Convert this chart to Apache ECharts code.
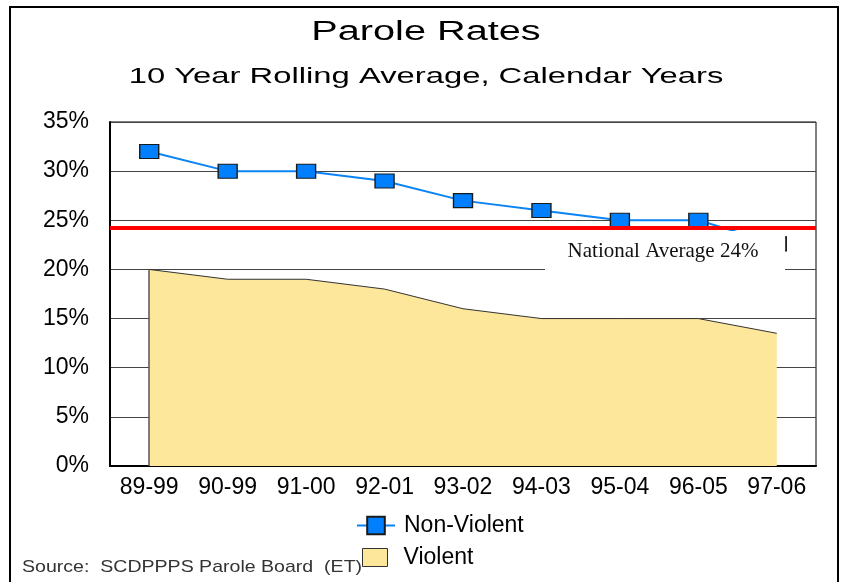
<!DOCTYPE html>
<html>
<head>
<meta charset="utf-8">
<script src="https://cdn.jsdelivr.net/npm/echarts@6/dist/echarts.min.js"></script>
<style>
  html, body { margin: 0; padding: 0; background: #fff; }
  #chart { width: 841px; height: 582px; }
</style>
</head>
<body>
<div id="chart"></div>
<script>
// 10 year rolling windows
const categories = ['89-99', '90-99', '91-00', '92-01', '93-02', '94-03', '95-04', '96-05', '97-06']
// percentages
const nonViolent = [32, 30, 30, 29, 27, 26, 25, 25, 22.6]
const violent = [20, 19, 19, 18, 16, 15, 15, 15, 13.5]
const nationalAverage = 24.2
const yTicks = [0, 5, 10, 15, 20, 25, 30, 35]

const axisFont = '"Liberation Sans", Arial, sans-serif'

const chart = echarts.init(document.getElementById('chart'))

const options = {
  animation: false,
  backgroundColor: '#fff',
  grid: {
    left: 110,
    right: 25,
    top: 122,
    bottom: 116,
    show: true,
    borderColor: '#000',
    borderWidth: 1
  },
  xAxis: {
    type: 'category',
    data: categories,
    boundaryGap: true,
    axisLine: { lineStyle: { color: '#000', width: 2 } },
    axisTick: { show: false },
    axisLabel: {
      interval: 0,
      color: '#000',
      fontSize: 23,
      fontFamily: axisFont,
      margin: 10
    },
    splitLine: { show: false }
  },
  yAxis: {
    type: 'value',
    min: yTicks[0],
    max: yTicks[yTicks.length - 1],
    interval: 5,
    axisLine: { show: true, lineStyle: { color: '#000', width: 2 } },
    axisTick: { show: false },
    axisLabel: {
      color: '#000',
      fontSize: 23,
      fontFamily: axisFont,
      margin: 21,
      formatter: '{value}%'
    },
    splitLine: { lineStyle: { color: '#444', width: 1 } }
  },
  legend: [
    {
      // 非暴力
      data: ['Non-Violent'],
      left: 351,
      top: 509,
      itemWidth: 38,
      itemHeight: 22,
      selectedMode: false,
      textStyle: { color: '#000', fontSize: 23, fontFamily: axisFont, padding: [0, 0, 0, 4] }
    },
    {
      data: [
        {
          name: 'Violent',
          icon: 'rect',
          itemStyle: { color: '#FDE79B', borderColor: '#333', borderWidth: 1 }
        }
      ],
      left: 357,
      top: 541,
      itemWidth: 25,
      itemHeight: 18,
      selectedMode: false,
      textStyle: { color: '#000', fontSize: 23, fontFamily: axisFont, padding: [0, 0, 0, 11] }
    }
  ],
  series: [
    {
      name: 'Violent',
      type: 'line',
      data: violent,
      symbol: 'none',
      z: 1,
      itemStyle: { color: '#FDE79B', borderColor: '#333', borderWidth: 1 },
      lineStyle: { color: '#333', width: 1 },
      areaStyle: { color: '#FDE79B', opacity: 1 },
      // left edge of the area
      markLine: {
        silent: true,
        symbol: 'none',
        label: { show: false },
        lineStyle: { color: '#555', width: 1.5, type: 'solid' },
        data: [[{ coord: [categories[0], 0] }, { coord: [categories[0], violent[0]] }]]
      }
    },
    {
      name: 'Non-Violent',
      type: 'line',
      data: nonViolent,
      symbol: 'rect',
      symbolSize: [19, 14],
      z: 3,
      itemStyle: { color: '#0080FF', borderColor: '#1a1a1a', borderWidth: 1.2 },
      lineStyle: { color: '#0A84F5', width: 2 },
      // 全国平均线
      markLine: {
        silent: true,
        symbol: 'none',
        label: { show: false },
        lineStyle: { color: '#FF0000', width: 4, type: 'solid' },
        data: [{ yAxis: nationalAverage }]
      }
    }
  ],
  graphic: [
    {
      type: 'rect',
      z: 100,
      shape: { x: 10, y: 7, width: 828, height: 600 },
      style: { fill: 'none', stroke: '#000', lineWidth: 2 }
    },
    {
      type: 'text',
      z: 100,
      x: 426,
      y: 33,
      scaleX: 1.47,
      style: {
        text: 'Parole Rates',
        fill: '#000',
        font: '27px "Liberation Sans", Arial, sans-serif',
        textAlign: 'center',
        textVerticalAlign: 'middle'
      }
    },
    {
      type: 'text',
      z: 100,
      x: 426,
      y: 77,
      scaleX: 1.49,
      style: {
        text: '10 Year Rolling Average, Calendar Years',
        fill: '#000',
        font: '22px "Liberation Sans", Arial, sans-serif',
        textAlign: 'center',
        textVerticalAlign: 'middle'
      }
    },
    {
      // label box for the national average
      type: 'rect',
      z: 100,
      shape: { x: 545, y: 231, width: 240, height: 41 },
      style: { fill: '#fff' }
    },
    {
      type: 'text',
      z: 101,
      x: 663,
      y: 251,
      style: {
        text: 'National Average 24%',
        fill: '#111',
        font: '21px "Liberation Serif", "Times New Roman", serif',
        textAlign: 'center',
        textVerticalAlign: 'middle'
      }
    },
    {
      type: 'text',
      z: 100,
      x: 22,
      y: 567,
      scaleX: 1.15,
      style: {
        text: 'Source:  SCDPPPS Parole Board  (ET)',
        fill: '#333',
        font: '17px "Liberation Sans", Arial, sans-serif',
        textAlign: 'left',
        textVerticalAlign: 'middle'
      }
    }
  ]
}

chart.setOption(options)
</script>
</body>
</html>
